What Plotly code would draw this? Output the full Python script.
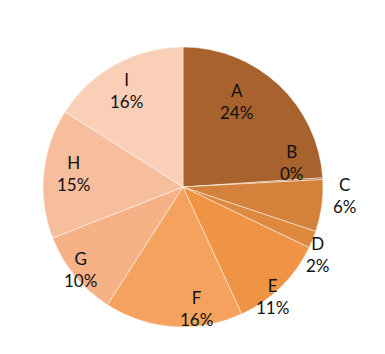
import math
import plotly.graph_objects as go

labels = ["A", "B", "C", "D", "E", "F", "G", "H", "I"]
values = [24, 0.2, 6, 2, 11, 16, 10, 15, 16]
colors = ["#a7622e", "#bb6e32", "#d3813b", "#de8a3e", "#ef9444",
          "#f5a25f", "#f6b286", "#f7be9e", "#f9cfb8"]
# label placement style: radial factor (1 = pie edge) and angular nudge (deg)
label_radius = [0.72, 0.80, 1.16, 1.08, 1.01, 0.87, 0.94, 0.79, 0.80]
label_nudge = [-10.8, -9.2, -4.7, 4.4, 5.3, -10.4, 0.4, 1.7, -1.5]

fig = go.Figure(go.Pie(
    labels=labels,
    values=values,
    sort=False,
    direction="clockwise",
    rotation=0,
    marker=dict(colors=colors, line=dict(color="rgba(255,255,255,0.6)", width=0.8)),
    textinfo="none",
    showlegend=False,
    hoverinfo="label+percent",
))

total = sum(values)
cum = 0.0
for lab, v, rf, nd in zip(labels, values, label_radius, label_nudge):
    mid = (cum + v / 2) / total * 360 + nd
    cum += v
    th = math.radians(mid)
    fig.add_annotation(
        x=0.5 + 0.5 * rf * math.sin(th),
        y=0.5 + 0.5 * rf * math.cos(th),
        xref="paper", yref="paper",
        text=f"{lab}<br>{round(v / total * 100):.0f}%",
        showarrow=False,
        font=dict(family="Lato, Open Sans, sans-serif", size=17, color="#111111"),
        xanchor="center", yanchor="middle",
    )

fig.update_layout(
    width=385,
    height=354,
    margin=dict(l=43, r=62, t=47, b=27),
    paper_bgcolor="white",
    plot_bgcolor="white",
)

fig.write_html("out.html")
